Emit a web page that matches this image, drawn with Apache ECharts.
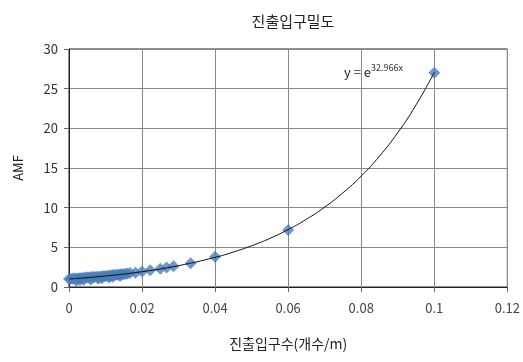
<!DOCTYPE html>
<html><head><meta charset="utf-8">
<script src="https://cdn.jsdelivr.net/npm/echarts@6/dist/echarts.min.js"></script>
<style>html,body{margin:0;padding:0;background:#fff}#c{width:523px;height:362px}</style>
</head><body><div id="c"></div>
<script>
// observed points (x = 진출입구수 per m, y = AMF)
const pointX = [0,0.0005,0.001,0.0015,0.002,0.0025,0.003,0.003,0.0035,0.004,0.0045,0.005,0.0055,0.006,0.006,0.0065,0.007,0.0075,0.008,0.0085,0.009,0.009,0.0095,0.010,0.0105,0.011,0.0115,0.012,0.012,0.0125,0.013,0.0135,0.014,0.0145,0.015,0.0155,0.016,0.0167,0.0182,0.020,0.0222,0.025,0.0267,0.0286,0.0333,0.04,0.06,0.1,0.002,0.004,0.008,0.011,0.014];
const pointY = [1.0,1.0,1.05,1.1,1.05,1.1,1.1,0.85,1.15,1.15,1.2,1.2,1.2,1.25,0.95,1.25,1.25,1.3,1.3,1.3,1.35,1.1,1.35,1.4,1.4,1.45,1.45,1.5,1.3,1.5,1.55,1.55,1.6,1.6,1.65,1.65,1.7,1.75,1.8,1.95,2.1,2.3,2.45,2.6,3.0,3.8,7.2,27.0,0.8,0.9,1.05,1.2,1.4];
// exponential trendline
const trendX = [0,0.01,0.02,0.03,0.04,0.045,0.05,0.055,0.06,0.065,0.07,0.075,0.08,0.085,0.09,0.095,0.1];
const trendY = [1,1.39,1.93,2.69,3.74,4.41,5.2,6.13,7.24,8.54,10.07,11.88,13.99,16.5,19.46,22.95,27.05];
const xTicks = [0,0.02,0.04,0.06,0.08,0.1,0.12];
const yTicks = [0,5,10,15,20,25,30];

const chart = echarts.init(document.getElementById('c'));
const font = '"Noto Sans CJK KR", "Noto Sans", sans-serif';
chart.setOption({
  animation:false,
  textStyle:{fontFamily:font},
  title:{text:'진출입구밀도',left:288,top:9,textAlign:'center',textStyle:{fontSize:15,fontWeight:'normal',color:'#222',fontFamily:font}},
  grid:{left:69,right:15,top:49,bottom:75,show:true,borderColor:'#222',borderWidth:1},
  xAxis:{type:'value',min:xTicks[0],max:xTicks[xTicks.length-1],interval:0.02,
    name:'진출입구수(개수/m)',nameLocation:'middle',nameGap:50,
    nameTextStyle:{fontSize:14,color:'#222',fontFamily:font},
    axisLine:{lineStyle:{color:'#222'}},
    axisTick:{show:true,inside:false,length:5,lineStyle:{color:'#666'}},
    axisLabel:{fontSize:13,color:'#444',margin:15,formatter:v=>String(+v.toFixed(2))},
    splitLine:{show:true,lineStyle:{color:'#888',width:1}}},
  yAxis:{type:'value',min:yTicks[0],max:yTicks[yTicks.length-1],interval:5,
    name:'AMF',nameLocation:'middle',nameGap:44,
    nameTextStyle:{fontSize:13,color:'#222',fontFamily:font},
    axisLine:{show:true,lineStyle:{color:'#222'}},
    axisTick:{show:true,length:5,lineStyle:{color:'#666'}},
    axisLabel:{fontSize:13,color:'#333',margin:11},
    splitLine:{show:true,lineStyle:{color:'#888',width:1}}},
  graphic:[{type:'text',left:344,top:63,style:{
    rich:{b:{fontSize:13,fill:'#222',fontFamily:font},s:{fontSize:9,fill:'#333',fontFamily:font,verticalAlign:'top',padding:[0,0,9,0]}},
    text:'{b|y = e}{s|32.966x}'}}],
  series:[
    {type:'line',data:trendX.map((x,i)=>[x,trendY[i]]),smooth:true,symbol:'none',
     lineStyle:{color:'#111',width:1},z:3},
    {type:'scatter',data:pointX.map((x,i)=>[x,pointY[i]]),symbol:'diamond',symbolSize:12,
     itemStyle:{color:'#4A7EBB'},z:2}
  ]
});
</script></body></html>
